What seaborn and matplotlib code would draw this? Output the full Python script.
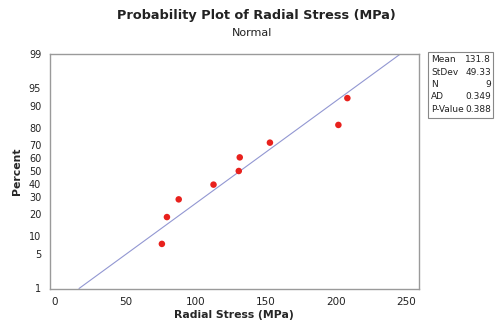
import numpy as np
import pandas as pd
import matplotlib
matplotlib.use("Agg")
import matplotlib.pyplot as plt
import seaborn as sns
from statistics import NormalDist

# ---- data ----
stress = [76.1, 79.7, 88.1, 112.9, 130.9, 131.6, 153.1, 201.9, 208.3]
mean_val = 131.8
sd_val = 49.33
n_val = 9
ad_val = 0.349
p_val = 0.388
pct_ticks = [1, 5, 10, 20, 30, 40, 50, 60, 70, 80, 90, 95, 99]
x_ticks = [0, 50, 100, 150, 200, 250]

nd = NormalDist()
n = len(stress)
pct = [(i + 1 - 0.3) / (n + 0.4) for i in range(n)]
df = pd.DataFrame({"x": sorted(stress), "z": [nd.inv_cdf(p) for p in pct]})

zlo, zhi = nd.inv_cdf(0.01), nd.inv_cdf(0.99)
line_df = pd.DataFrame({"z": [zlo, zhi]})
line_df["x"] = mean_val + sd_val * line_df["z"]

sns.set_style("white")
plt.rcParams["font.family"] = ["DejaVu Sans"]

fig = plt.figure(figsize=(4.98, 3.24), dpi=100)
ax = fig.add_axes([49.5 / 498, 1 - 288.5 / 324, 369 / 498, 235 / 324])

sns.lineplot(data=line_df, x="x", y="z", ax=ax, color="#9297d2", linewidth=0.8,
             sort=False)
sns.scatterplot(data=df, x="x", y="z", ax=ax, color="#e8211d", s=22,
                edgecolor="none", zorder=3)

ax.set_xlim(-4, 259)
ax.set_ylim(zlo, zhi)
ax.set_yticks([nd.inv_cdf(p / 100) for p in pct_ticks])
ax.set_yticklabels([str(p) for p in pct_ticks])
ax.set_xticks(x_ticks)
ax.set_xticklabels([str(v) for v in x_ticks])

for s in ax.spines.values():
    s.set_color("#9a9a9a")
    s.set_linewidth(1.0)
ax.tick_params(axis="both", direction="out", length=4, width=0.8,
               color="#9a9a9a", labelsize=7.5, labelcolor="#222222", pad=2)
ax.tick_params(axis="y", labelsize=7)
ax.set_xlabel("Radial Stress (MPa)", fontsize=7.8, fontweight="bold", labelpad=2)
ax.set_ylabel("Percent", fontsize=7.8, fontweight="bold", labelpad=5)

fig.text(256 / 498, 1 - 16 / 324, "Probability Plot of Radial Stress (MPa)",
         ha="center", va="center", fontsize=9.3, fontweight="bold", color="#222222")
fig.text(252 / 498, 1 - 33 / 324, "Normal", ha="center", va="center",
         fontsize=8, color="#222222")

# stats box
bx0, by0, bw, bh = 428, 52, 65, 66
box = plt.Rectangle((bx0 / 498, 1 - (by0 + bh) / 324), bw / 498, bh / 324,
                    transform=fig.transFigure, fill=False, edgecolor="#888888",
                    linewidth=0.8)
fig.patches.append(box)
labels = ["Mean", "StDev", "N", "AD", "P-Value"]
vals = [f"{mean_val:.1f}", f"{sd_val:.2f}", f"{n_val}", f"{ad_val:.3f}", f"{p_val:.3f}"]
for i, (lab, v) in enumerate(zip(labels, vals)):
    yy = 1 - (60 + i * 12.3) / 324
    fig.text(431 / 498, yy, lab, ha="left", va="center", fontsize=6.5, color="#222222")
    fig.text(491 / 498, yy, v, ha="right", va="center", fontsize=6.5, color="#222222")

fig.savefig("out.png", dpi=100)
